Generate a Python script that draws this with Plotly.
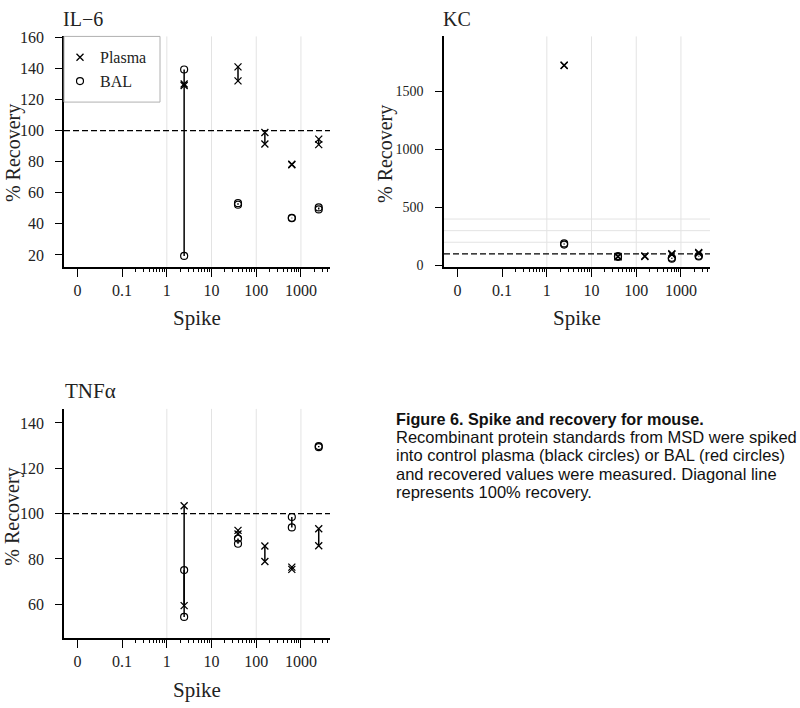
import plotly.graph_objects as go

# ---------------- data ----------------
spike = [2.44, 39.1, 156, 625, 2500]

il6_plasma_a = [129, 141, 98.8, 78.3, 94.5]
il6_plasma_b = [130, 132, 91.4, 78.0, 91.0]
il6_bal_a = [139.3, 53.3, None, 43.9, 50.6]
il6_bal_b = [19.4, 52.3, None, 43.6, 49.3]

kc_plasma_a = [1726, 78, 82, 101, 112]
kc_plasma_b = [1722, 74, 78, 95, 104]
kc_bal_a = [190, 80, None, 66, 84]
kc_bal_b = [180, 74, None, 58, 78]

tnf_plasma_a = [103.5, 92.6, 85.7, 76.4, 93.3]
tnf_plasma_b = [59.4, 91.0, 78.9, 75.4, 85.8]
tnf_bal_a = [75.1, 89.0, None, 98.5, 129.8]
tnf_bal_b = [54.4, 86.7, None, 93.9, 129.3]

x_tickvals = [0.01, 0.1, 1, 10, 100, 1000]
x_ticktext = ["0", "0.1", "1", "10", "100", "1000"]
grid_x = [1, 10, 100, 1000]
kc_grid_y = [200, 300, 400]

il6_yticks = [20, 40, 60, 80, 100, 120, 140, 160]
kc_yticks = [0, 500, 1000, 1500]
tnf_yticks = [60, 80, 100, 120, 140]

caption_lines = [
    "<b>Figure 6. Spike and recovery for mouse.</b>",
    "Recombinant protein standards from MSD were spiked",
    "into control plasma (black circles) or BAL (red circles)",
    "and recovered values were measured. Diagonal line",
    "represents 100% recovery.",
]

SERIF = "Liberation Serif"
SANS = "Liberation Sans"
W, H = 800, 708


def px(x):
    return x / W


def py(y):
    return 1 - y / H


fig = go.Figure()


def add_panel(xa, ya, pa, pb, ba, bb, show):
    for a_list, b_list in ((pa, pb), (ba, bb)):
        xs, ys = [], []
        for s, a, b in zip(spike, a_list, b_list):
            if a is None or b is None:
                continue
            xs += [s, s, None]
            ys += [a, b, None]
        fig.add_trace(go.Scatter(x=xs, y=ys, mode="lines", xaxis=xa, yaxis=ya,
                                 line=dict(color="black", width=1.5),
                                 showlegend=False, hoverinfo="skip"))
    sx = spike + spike
    fig.add_trace(go.Scatter(x=sx, y=pa + pb, mode="markers", name="Plasma",
                             xaxis=xa, yaxis=ya, showlegend=show,
                             marker=dict(symbol="x-thin-open", size=7, color="black",
                                         line=dict(width=1.3, color="black"))))
    fig.add_trace(go.Scatter(x=sx, y=ba + bb, mode="markers", name="BAL",
                             xaxis=xa, yaxis=ya, showlegend=show,
                             marker=dict(symbol="circle-open", size=7, color="black",
                                         line=dict(width=1.2, color="black"))))


add_panel("x", "y", il6_plasma_a, il6_plasma_b, il6_bal_a, il6_bal_b, True)
add_panel("x2", "y2", kc_plasma_a, kc_plasma_b, kc_bal_a, kc_bal_b, False)
add_panel("x3", "y3", tnf_plasma_a, tnf_plasma_b, tnf_bal_a, tnf_bal_b, False)

# minor log ticks (2..9 per decade, from 0.1 up to the axis end)
minor_vals = [m * 10 ** e for e in range(-1, 4) for m in range(2, 10)]
minor_vals = [v for v in minor_vals if v < 4500]

XRANGE = [-2.30, 3.65]
xcommon = dict(type="log", range=XRANGE, tickmode="array",
               tickvals=x_tickvals, ticktext=x_ticktext,
               showline=True, linecolor="black", linewidth=1.6,
               ticks="outside", ticklen=8, tickwidth=1.3, tickcolor="black",
               showgrid=False, zeroline=False,
               tickfont=dict(family=SERIF, size=16, color="#222"))
xminor = dict(type="log", range=XRANGE, tickmode="array", tickvals=minor_vals,
              showline=False, showgrid=False, zeroline=False, showticklabels=False,
              ticks="outside", ticklen=4, tickwidth=1.1, tickcolor="black", side="bottom")
ycommon = dict(showline=True, linecolor="black", linewidth=1.6,
               ticks="outside", ticklen=7, tickwidth=1.3, tickcolor="black",
               showgrid=False, zeroline=False, tickmode="array")

top_dom = [py(265), py(30)]
bot_dom = [py(644), py(410)]
left_dom = [px(64), px(330)]
right_dom = [px(444), px(710)]

fig.update_layout(
    xaxis=dict(domain=left_dom, anchor="y", **xcommon),
    yaxis=dict(domain=top_dom, anchor="x", range=[12.4, 160.6], tickvals=il6_yticks,
               ticklabelstandoff=8, tickfont=dict(family=SERIF, size=16, color="#222"), **ycommon),
    xaxis2=dict(domain=right_dom, anchor="y2", **xcommon),
    yaxis2=dict(domain=top_dom, anchor="x2", range=[-11, 1973], tickvals=kc_yticks,
                ticklabelstandoff=9, tickfont=dict(family=SERIF, size=14, color="#222"), **ycommon),
    xaxis3=dict(domain=left_dom, anchor="y3", **xcommon),
    yaxis3=dict(domain=bot_dom, anchor="x3", range=[45, 146.2], tickvals=tnf_yticks,
                ticklabelstandoff=8, tickfont=dict(family=SERIF, size=16, color="#222"), **ycommon),
    xaxis4=dict(overlaying="x", anchor="y", **xminor),
    xaxis5=dict(overlaying="x2", anchor="y2", **xminor),
    xaxis6=dict(overlaying="x3", anchor="y3", **xminor),
)
for xa, ya in (("x4", "y"), ("x5", "y2"), ("x6", "y3")):
    fig.add_trace(go.Scatter(x=[], y=[], xaxis=xa, yaxis=ya, showlegend=False, hoverinfo="skip"))

shapes = []
GRID = "#e3e3e3"
for xa, ya in (("x", "y"), ("x2", "y2"), ("x3", "y3")):
    for g in grid_x:
        shapes.append(dict(type="line", xref=xa, yref=ya + " domain", x0=g, x1=g, y0=0, y1=1,
                           line=dict(color=GRID, width=1), layer="below"))
    shapes.append(dict(type="line", xref=xa + " domain", yref=ya, x0=0, x1=1, y0=100, y1=100,
                       line=dict(color="black", width=1.4, dash="6px,3px")))
for g in kc_grid_y:
    shapes.append(dict(type="line", xref="x2 domain", yref="y2", x0=0, x1=1, y0=g, y1=g,
                       line=dict(color=GRID, width=1), layer="below"))
# legend box (drawn over the axis line, as in the reference)
shapes.append(dict(type="rect", xref="paper", yref="paper", x0=px(64), x1=px(160),
                   y0=py(97), y1=py(30), fillcolor="white",
                   line=dict(color="#b0b0b0", width=1), layer="above"))

annotations = []
for txt, x in (("IL−6", 62), ("KC", 442)):
    annotations.append(dict(text=txt, x=px(x), y=1, xref="paper", yref="paper",
                            xanchor="left", yanchor="top", showarrow=False, borderpad=0,
                            font=dict(family=SERIF, size=20, color="#222")))
annotations.append(dict(text="TNFα", x=px(63), y=py(392), xref="paper", yref="paper",
                        xanchor="left", yanchor="middle", showarrow=False,
                        font=dict(family=SERIF, size=21, color="#222")))
for x, y in ((197, 317), (577, 317), (197, 697)):
    annotations.append(dict(text="Spike", x=px(x), y=py(y), xref="paper", yref="paper",
                            xanchor="center", yanchor="middle", showarrow=False,
                            font=dict(family=SERIF, size=21, color="#222")))
for x, y in ((13, 149), (385, 150), (13, 520)):
    annotations.append(dict(text="% Recovery", x=px(x), y=py(y), xref="paper", yref="paper",
                            xanchor="center", yanchor="middle", showarrow=False, textangle=-90,
                            font=dict(family=SERIF, size=20, color="#222")))
for i, line in enumerate(caption_lines):
    annotations.append(dict(text=line, x=px(394), y=py(420 + i * 18.7),
                            xref="paper", yref="paper", xanchor="left", yanchor="middle",
                            showarrow=False,
                            font=dict(family=SANS, size=16.2 if i == 0 else 16.5, color="#111")))

fig.update_layout(
    width=W, height=H, margin=dict(l=0, r=0, t=0, b=0),
    paper_bgcolor="white", plot_bgcolor="white",
    shapes=shapes, annotations=annotations,
    legend=dict(x=px(60), y=py(34), xanchor="left", yanchor="top",
                bgcolor="rgba(0,0,0,0)", borderwidth=0,
                font=dict(family=SERIF, size=16, color="#222")),
)

fig.write_html("out.html", config={"displayModeBar": False},
               post_script="document.body.style.margin='0';document.body.style.overflow='hidden';")
